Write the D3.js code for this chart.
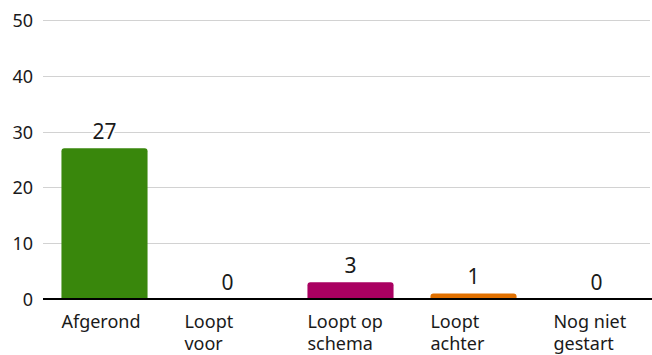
<!DOCTYPE html>
<html>
<head>
<meta charset="utf-8">
<script src="https://cdn.jsdelivr.net/npm/d3@7/dist/d3.min.js"></script>
<style>
  html, body { margin: 0; padding: 0; background: #fff; }
  svg { display: block; font-family: "Noto Sans", "Open Sans", sans-serif; }
</style>
</head>
<body>
<svg id="chart" width="652" height="355"></svg>
<script>
// Project status counts
const categories = [["Afgerond"], ["Loopt", "voor"], ["Loopt op", "schema"], ["Loopt", "achter"], ["Nog niet", "gestart"]];
const values = [27, 0, 3, 1, 0];
const colors = ["#39870c", "#39870c", "#a90061", "#e17000", "#8fcae7"];
const yTicks = [0, 10, 20, 30, 40, 50];

const svg = d3.select("#chart");
const left = 43;

const rows = values.map((v, i) => ({ i, v, color: colors[i], label: categories[i] }));

const x = d3.scaleBand()
  .domain(d3.range(values.length))
  .range([left, 658])
  .paddingInner(0.3)
  .paddingOuter(0.15);

const y = d3.scaleLinear().domain([0, 50]).range([299, 20]);

// gridlines
svg.append("g").selectAll("line").data(yTicks.filter(d => d > 0)).join("line")
  .attr("x1", left).attr("x2", 650)
  .attr("y1", d => Math.round(y(d)) + 0.5).attr("y2", d => Math.round(y(d)) + 0.5)
  .attr("stroke", "#d2d2d2").attr("stroke-width", 1);

// y-axis labels
svg.append("g").selectAll("text").data(yTicks).join("text")
  .attr("x", 33).attr("y", d => y(d))
  .attr("text-anchor", "end").attr("dominant-baseline", "central")
  .attr("font-size", 18).attr("fill", "#1a1a1a")
  .text(d => d);

// bars with rounded top corners
function barPath(x0, w, yTop, yBase, r) {
  const h = yBase - yTop;
  r = Math.min(r, h, w / 2);
  return `M${x0},${yBase}V${yTop + r}Q${x0},${yTop} ${x0 + r},${yTop}H${x0 + w - r}Q${x0 + w},${yTop} ${x0 + w},${yTop + r}V${yBase}Z`;
}
svg.append("g").selectAll("path").data(rows.filter(d => d.v > 0)).join("path")
  .attr("d", d => barPath(x(d.i), x.bandwidth(), y(d.v), y(0), 3))
  .attr("fill", d => d.color);

// baseline
svg.append("line")
  .attr("x1", left).attr("x2", 652)
  .attr("y1", y(0)).attr("y2", y(0))
  .attr("stroke", "#000").attr("stroke-width", 2);

// value labels with white halo
svg.append("g").selectAll("text").data(rows).join("text")
  .attr("x", d => x(d.i) + x.bandwidth() / 2)
  .attr("y", d => y(d.v) - 9)
  .attr("text-anchor", "middle")
  .attr("font-size", 21).attr("fill", "#1a1a1a")
  .attr("stroke", "#fff").attr("stroke-width", 4).attr("paint-order", "stroke")
  .text(d => d.v);

// category labels, left-aligned with the bar
const cat = svg.append("g").selectAll("text").data(rows).join("text")
  .attr("x", d => x(d.i))
  .attr("y", 328)
  .attr("font-size", 18).attr("fill", "#1a1a1a");
cat.selectAll("tspan").data(d => d.label.map(t => ({ t, x: x(d.i) }))).join("tspan")
  .attr("x", d => d.x)
  .attr("dy", (d, j) => j === 0 ? 0 : 22)
  .text(d => d.t);
</script>
</body>
</html>
